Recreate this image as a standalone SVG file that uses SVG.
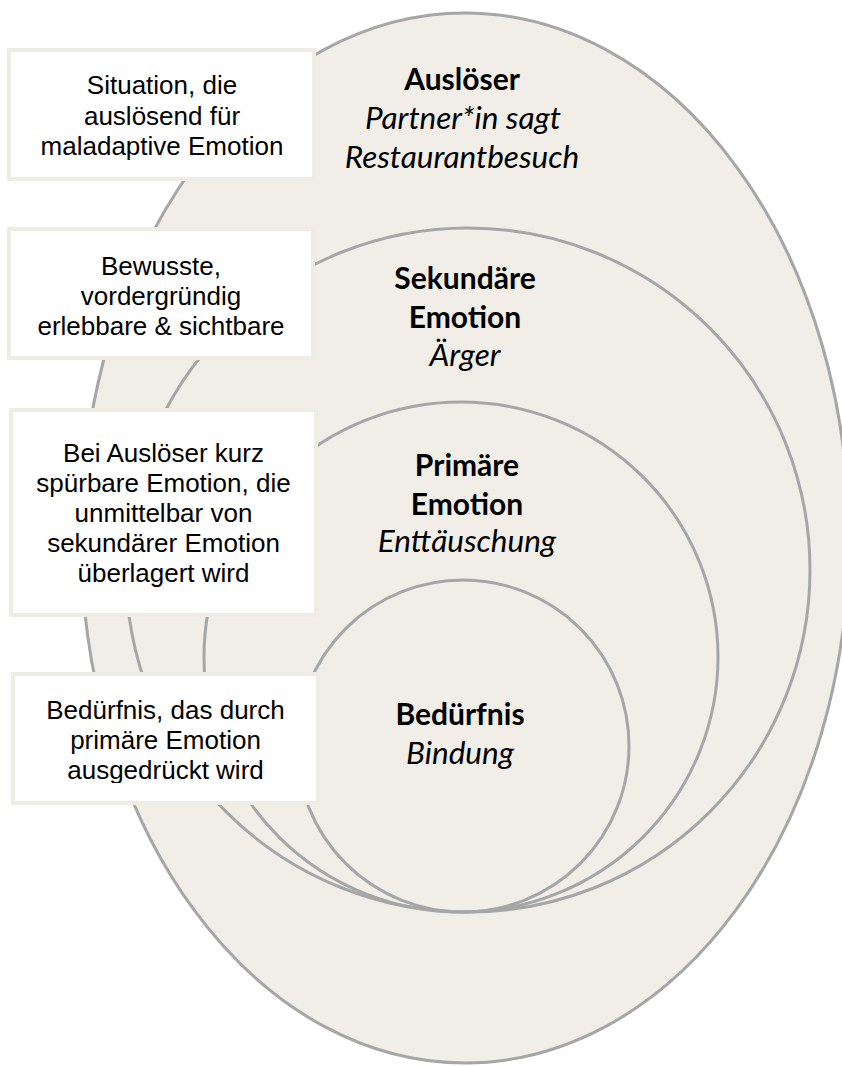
<svg xmlns="http://www.w3.org/2000/svg" width="842" height="1066" viewBox="0 0 842 1066">
<style>
.ring{fill:#f0eee7;stroke:#a6a6a6;stroke-width:3}
.inner{fill:none;stroke:#a6a6a6;stroke-width:3}
.box{fill:#ffffff;stroke:#efece4;stroke-width:4}
.bt{font-family:"Liberation Sans",Arial,sans-serif;font-size:26px;fill:#000;text-anchor:middle}
.lb{font-family:Lato,"Open Sans",sans-serif;font-size:30px;font-weight:bold;fill:#000;text-anchor:middle}
.li{font-family:Lato,"Open Sans",sans-serif;font-size:31.5px;font-style:italic;fill:#000;text-anchor:middle}
</style>
<defs>
<clipPath id="clip4"><rect x="13" y="674" width="305" height="109"/></clipPath>
</defs>
<rect width="842" height="1066" fill="#ffffff"/>
<g id="rings">
<g id="ring-ausloeser"><ellipse class="ring" cx="465" cy="538" rx="384" ry="525"/></g>
<g id="ring-sekundaer"><circle class="inner" cx="468" cy="570" r="342"/></g>
<g id="ring-primaer"><ellipse class="inner" cx="461" cy="657" rx="257" ry="255"/></g>
<g id="ring-beduerfnis"><circle class="inner" cx="463" cy="746" r="166"/></g>
</g>
<g id="connectors"></g>
<g id="labels">
<g id="label-ausloeser">
<text class="lb" x="462" y="90">Auslöser</text>
<text class="li" x="463" y="129">Partner*in sagt</text>
<text class="li" x="462" y="168">Restaurantbesuch</text>
</g>
<g id="label-sekundaer">
<text class="lb" x="465" y="289">Sekundäre</text>
<text class="lb" x="465" y="328">Emotion</text>
<text class="li" x="465" y="366">Ärger</text>
</g>
<g id="label-primaer">
<text class="lb" x="467" y="476">Primäre</text>
<text class="lb" x="467" y="515">Emotion</text>
<text class="li" x="467" y="552">Enttäuschung</text>
</g>
<g id="label-beduerfnis">
<text class="lb" x="460" y="725">Bedürfnis</text>
<text class="li" x="460" y="764">Bindung</text>
</g>
</g>
<g id="box1">
<rect class="box" x="9" y="50" width="305" height="129"/>
<text class="bt" x="162" y="94">Situation, die</text>
<text class="bt" x="162" y="125">auslösend für</text>
<text class="bt" x="162" y="155">maladaptive Emotion</text>
</g>
<g id="box2">
<rect class="box" x="9" y="229" width="304" height="129"/>
<text class="bt" x="161" y="275">Bewusste,</text>
<text class="bt" x="161" y="305">vordergründig</text>
<text class="bt" x="161" y="335">erlebbare &amp; sichtbare</text>
</g>
<g id="box3">
<rect class="box" x="11" y="410" width="305" height="205"/>
<text class="bt" x="163.5" y="462">Bei Auslöser kurz</text>
<text class="bt" x="163.5" y="492">spürbare Emotion, die</text>
<text class="bt" x="163.5" y="522">unmittelbar von</text>
<text class="bt" x="163.5" y="552">sekundärer Emotion</text>
<text class="bt" x="163.5" y="582">überlagert wird</text>
</g>
<g id="box4">
<rect class="box" x="13" y="674" width="305" height="129"/>
<g clip-path="url(#clip4)">
<text class="bt" x="165.5" y="719">Bedürfnis, das durch</text>
<text class="bt" x="165.5" y="749">primäre Emotion</text>
<text class="bt" x="165.5" y="779">ausgedrückt wird</text>
</g>
</g>
</svg>
